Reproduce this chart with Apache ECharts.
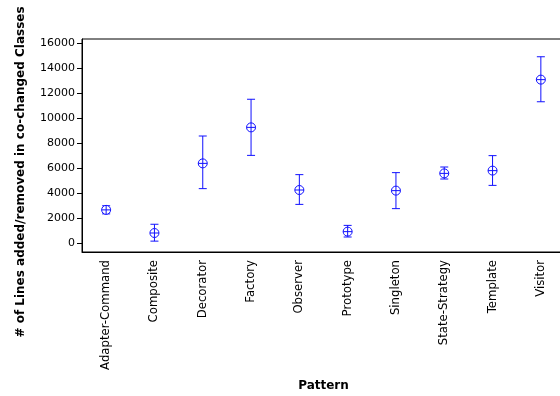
<!DOCTYPE html>
<html><head><meta charset="utf-8">
<script src="https://cdn.jsdelivr.net/npm/echarts@6/dist/echarts.min.js"></script>
<style>html,body{margin:0;padding:0;background:#fff}#c{width:560px;height:396px}</style>
</head><body><div id="c"></div>
<script>
const categories = ['Adapter-Command','Composite','Decorator','Factory','Observer','Prototype','Singleton','State-Strategy','Template','Visitor'];
const means = [2650, 800, 6370, 9250, 4240, 910, 4190, 5570, 5790, 13070];
const lows  = [2330, 150, 4350, 7010, 3090, 480, 2750, 5120, 4610, 11300];
const highs = [2980, 1500, 8560, 11500, 5470, 1410, 5630, 6080, 6990, 14900];
const yTicks = [0, 2000, 4000, 6000, 8000, 10000, 12000, 14000, 16000];

const data = categories.map((c, i) => [i, means[i], lows[i], highs[i]]);
const BLUE = '#1010ff';
const FONT = 'DejaVu Sans';

const chart = echarts.init(document.getElementById('c'));
chart.setOption({
  animation: false,
  backgroundColor: '#fff',
  grid: { left: 82, width: 483, top: 39, height: 213, show: true, borderColor: '#000', borderWidth: 1, containLabel: false, outerBoundsMode: 'none' },
  xAxis: {
    type: 'category', data: categories, boundaryGap: true,
    axisLine: { onZero: false, lineStyle: { color: '#000', width: 1 } },
    axisTick: { alignWithLabel: true, length: 5, lineStyle: { color: '#000' } },
    axisLabel: { rotate: 90, margin: 8, color: '#000', fontFamily: FONT, fontSize: 11.7, interval: 0 },
    name: 'Pattern', nameLocation: 'middle', nameGap: 128,
    nameTextStyle: { fontFamily: FONT, fontWeight: 'bold', fontSize: 12, color: '#000' },
    splitLine: { show: false }
  },
  yAxis: {
    type: 'value', min: -720, max: 16320,
    axisLine: { show: true, lineStyle: { color: '#000', width: 1 } },
    axisTick: { show: true, length: 5, customValues: yTicks, lineStyle: { color: '#000' } },
    axisLabel: { customValues: yTicks, margin: 7, color: '#000', fontFamily: FONT, fontSize: 11, formatter: v => String(v) },
    splitLine: { show: false }
  },
  graphic: [{
    type: 'text', x: 21, y: 172, rotation: Math.PI / 2,
    style: { text: '# of Lines added/removed in co-changed Classes', fontFamily: FONT, fontWeight: 'bold', fontSize: 12, fill: '#000', align: 'center', verticalAlign: 'middle' }
  }],
  series: [{
    type: 'custom',
    data: data,
    renderItem: function (params, api) {
      const x = api.value(0);
      const c = api.coord([x, api.value(1)]);
      const lo = api.coord([x, api.value(2)]);
      const hi = api.coord([x, api.value(3)]);
      const r = 4.5, cap = 4;
      const st = { stroke: BLUE, lineWidth: 1, fill: null };
      return {
        type: 'group',
        children: [
          { type: 'line', shape: { x1: hi[0], y1: hi[1], x2: lo[0], y2: lo[1] }, style: st },
          { type: 'line', shape: { x1: hi[0] - cap, y1: hi[1], x2: hi[0] + cap, y2: hi[1] }, style: st },
          { type: 'line', shape: { x1: lo[0] - cap, y1: lo[1], x2: lo[0] + cap, y2: lo[1] }, style: st },
          { type: 'circle', shape: { cx: c[0], cy: c[1], r: r }, style: { stroke: BLUE, lineWidth: 1, fill: '#fff' } },
          { type: 'line', shape: { x1: c[0] - r, y1: c[1], x2: c[0] + r, y2: c[1] }, style: st },
          { type: 'line', shape: { x1: c[0], y1: c[1] - r, x2: c[0], y2: c[1] + r }, style: st }
        ]
      };
    }
  }]
});
</script></body></html>
